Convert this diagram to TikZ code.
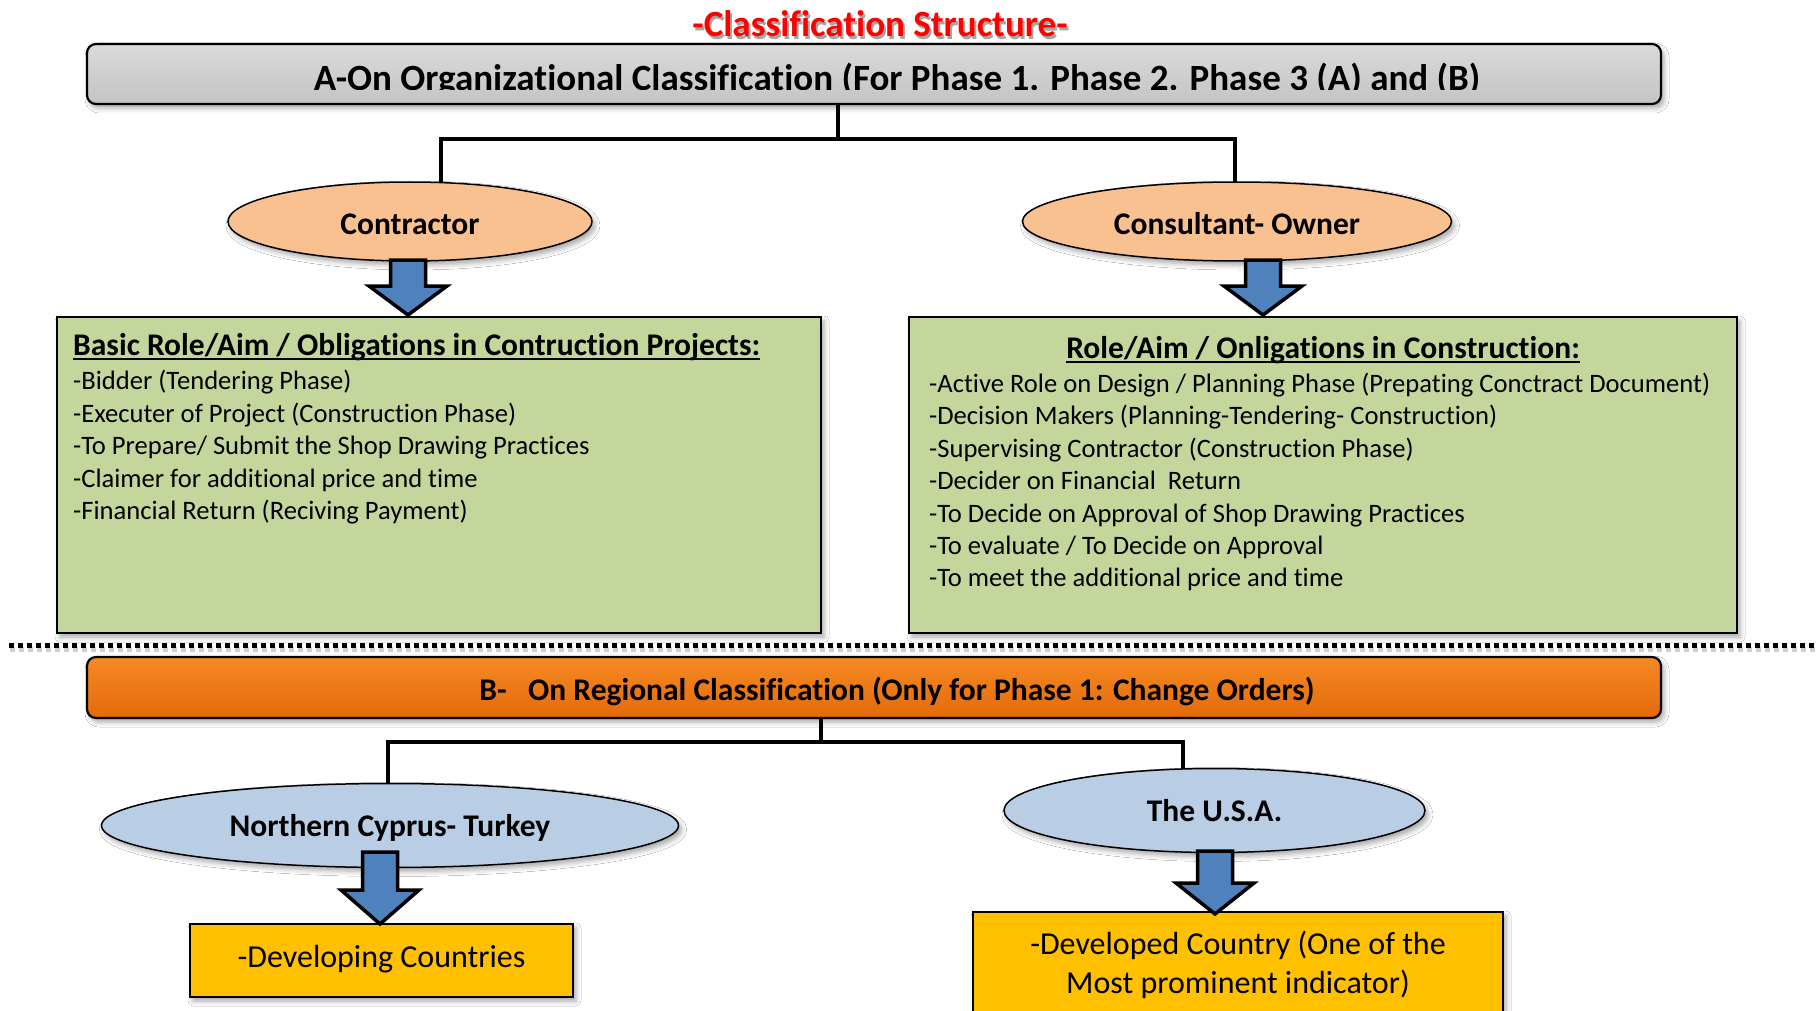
\documentclass[tikz,border=0pt]{standalone}
\usepackage{fontspec}
\setmainfont{Carlito}[Ligatures={NoCommon}]
\usetikzlibrary{shapes.geometric,shadows.blur,calc}

\definecolor{hdrgrayA}{RGB}{218,218,218}
\definecolor{hdrgrayB}{RGB}{196,196,196}
\definecolor{orgA}{RGB}{246,138,36}
\definecolor{orgB}{RGB}{226,106,10}
\definecolor{peach}{RGB}{249,192,144}
\definecolor{leaf}{RGB}{195,214,155}
\definecolor{skyblue}{RGB}{185,205,229}
\definecolor{arrowblue}{RGB}{79,129,189}
\definecolor{amber}{RGB}{255,192,0}

\tikzset{
  softshadow/.style={blur shadow={shadow xshift=3pt, shadow yshift=-4pt, shadow blur radius=5pt, shadow opacity=35}},
  banner/.style={draw=black, line width=2.2pt, rounded corners=9pt, softshadow, inner sep=0pt},
  oval/.style={ellipse, draw=black, line width=1.5pt, inner sep=0pt, softshadow,
    font=\fontsize{31.5}{38}\selectfont\bfseries, text height=22pt, text depth=0pt},
  panel/.style={draw=black, line width=2pt, fill=leaf, softshadow, inner sep=0pt},
  goldbox/.style={draw=black, line width=2pt, fill=amber, softshadow, inner sep=0pt},
  tree/.style={line width=4pt, line cap=rect},
  blockarr/.style={fill=arrowblue, draw=black, line width=3.5pt, line join=miter},
  body/.style={inner sep=0pt, anchor=base west, font=\fontsize{26.6}{32.5}\selectfont},
  paneltitle/.style={inner sep=0pt, anchor=base west, font=\fontsize{31.5}{38}\selectfont\bfseries},
  bigbold/.style={inner sep=0pt, anchor=base, font=\fontsize{37}{44}\selectfont\bfseries},
  goldtext/.style={inner sep=0pt, anchor=base, font=\fontsize{32}{39}\selectfont},
}

% thick block arrow from a top point down to a tip point
\newcommand\blockarrow[3]{%
  \draw[blockarr] let \p1=(#1), \p2=(#2) in
    (\x1-17.5pt,\y1) -- (\x1+17.5pt,\y1) -- (\x1+17.5pt,\y2+#3) -- (\x1+39pt,\y2+#3)
    -- (\x2,\y2) -- (\x1-39pt,\y2+#3) -- (\x1-17.5pt,\y2+#3) -- cycle;}

\begin{document}
\begin{tikzpicture}[x=1pt,y=-1pt]
\clip (0,0) rectangle (1818,1011);
\fill[white] (0,0) rectangle (1818,1011);

% ---------- title ----------
\node[bigbold, text=black, opacity=0.35] (ttlshadow) at (882,39.5) {-Classification Structure-};
\node[bigbold, text=red] (ttl) at (880,36.5) {-Classification Structure-};

% ---------- part A header ----------
\node[banner, top color=hdrgrayA, bottom color=hdrgrayB, minimum width=1574pt, minimum height=60pt] (hdr) at (874,74) {};
\begin{scope}
  \clip (87,44) rectangle (1661,89.5);
  \node[bigbold] (hdrtext) at (897,91) {A-On Organizational Classification (For Phase 1. Phase 2. Phase 3 (A) and (B)};
\end{scope}

% tree connectors, part A
\coordinate (hubA) at (838,139);
\coordinate (legAL) at (441,221);
\coordinate (legAR) at (1235,221);
\draw[tree] (hubA |- hdr.south) -- (hubA);
\draw[tree] (legAL) |- (hubA) -| (legAR);

% ellipses, part A
\node[oval, fill=peach, minimum width=364pt, minimum height=79pt, text height=27pt] (contractor) at (410,221.5) {Contractor};
\node[oval, fill=peach, minimum width=429pt, minimum height=79pt, text height=27pt] (consultant) at (1237,221.5) {Consultant- Owner};

% panels
\node[panel, minimum width=764pt, minimum height=316pt] (lpanel) at (439,475) {};
\node[panel, minimum width=828pt, minimum height=316pt] (rpanel) at (1323,475) {};

% block arrows, part A
\coordinate (aLtop) at (408,260);
\coordinate (aLtip) at (408,315);
\coordinate (aRtop) at (1263,260);
\coordinate (aRtip) at (1263,315);
\blockarrow{aLtop}{aLtip}{29pt}
\blockarrow{aRtop}{aRtip}{29pt}

% left panel text
\node[paneltitle] (ltitle) at (73,355) {Basic Role/Aim / Obligations in Contruction Projects:};
\draw[line width=2.2pt] ($(ltitle.base west)+(0,4)$) -- ($(ltitle.base east)+(0,4)$);
\foreach \t [count=\i] in {{-Bidder (Tendering Phase)},
  {-Executer of Project (Construction Phase)},
  {-To Prepare/ Submit the Shop Drawing Practices},
  {-Claimer for additional price and time},
  {-Financial Return (Reciving Payment)}}
  \node[body] (lline\i) at (73,{389.5+32.5*(\i-1)}) {\t};

% right panel text
\node[paneltitle, anchor=base] (rtitle) at (1323,358) {Role/Aim / Onligations in Construction:};
\draw[line width=2.2pt] ($(rtitle.base west)+(0,4)$) -- ($(rtitle.base east)+(0,4)$);
\foreach \t [count=\i] in {{-Active Role on Design / Planning Phase (Prepating Conctract Document)},
  {-Decision Makers (Planning-Tendering- Construction)},
  {-Supervising Contractor (Construction Phase)},
  {-Decider on Financial\ \ Return},
  {-To Decide on Approval of Shop Drawing Practices},
  {-To evaluate / To Decide on Approval},
  {-To meet the additional price and time}}
  \node[body] (rline\i) at (929,{392.5+32.4*(\i-1)}) {\t};

% ---------- separator ----------
\coordinate (sepL) at (9,645);
\coordinate (sepR) at (1818,645);
\draw[line width=5pt, dash pattern=on 5pt off 4pt, black!30, opacity=0.6] ($(sepL)+(1,4)$) -- ($(sepR)+(1,4)$);
\draw[line width=5pt, dash pattern=on 5pt off 4pt] (sepL) -- (sepR);

% ---------- part B header ----------
\node[banner, top color=orgA, bottom color=orgB, minimum width=1574pt, minimum height=61pt] (regional) at (874,687.5) {};
\node[inner sep=0pt, anchor=base, font=\fontsize{31.5}{38}\selectfont\bfseries] (regtext) at (897,700) {B-\ \ \ On Regional Classification (Only for Phase 1: Change Orders)};

% tree connectors, part B
\coordinate (hubB) at (821,742);
\coordinate (legBL) at (388,825);
\coordinate (legBR) at (1183,810);
\draw[tree] (hubB |- regional.south) -- (hubB);
\draw[tree] (legBL) |- (hubB) -| (legBR);

% ellipses, part B
\node[oval, fill=skyblue, minimum width=577pt, minimum height=84pt] (cyprus) at (390,825.5) {Northern Cyprus- Turkey};
\node[oval, fill=skyblue, minimum width=421pt, minimum height=84pt] (usa) at (1214.5,810.5) {The U.S.A.};

% result boxes
\node[goldbox, minimum width=383pt, minimum height=73pt] (developing) at (381.5,960.5) {};
\node[goldtext] (devingtext) at (381.5,967) {-Developing Countries};
\node[goldbox, minimum width=530pt, minimum height=130pt] (developed) at (1238,977) {};
\node[goldtext] (devedtext1) at (1238,954) {-Developed Country (One of the};
\node[goldtext] (devedtext2) at (1238,993) {Most prominent indicator)};

% block arrows, part B
\coordinate (bLtop) at (380,852);
\coordinate (bLtip) at (380,924);
\coordinate (bRtop) at (1215,851);
\coordinate (bRtip) at (1215,914);
\blockarrow{bLtop}{bLtip}{34pt}
\blockarrow{bRtop}{bRtip}{31pt}

\end{tikzpicture}
\end{document}
